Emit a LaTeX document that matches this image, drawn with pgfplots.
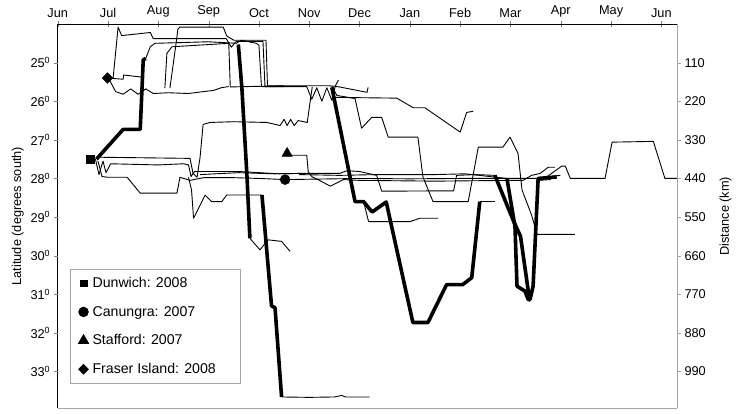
\documentclass[border=0pt]{standalone}
\usepackage{fontspec}
\setmainfont{Liberation Sans}
\usepackage{pgfplots}
\pgfplotsset{compat=1.18}
\pgfplotsset{
  trk/.style={black, line width=0.9bp, forget plot, line join=round},
  tkk/.style={black, line width=3.6bp, forget plot, line join=round},
  frame/.style={scale only axis, width=619bp, height=384bp,
    xmin=0, xmax=12.31, clip=false},
}
\begin{document}
\begin{tikzpicture}[font=\fontsize{12.8}{15}\selectfont]
% latitude axis with the tracks
\begin{axis}[frame, name=ax,
  ymin=24, ymax=33.95, y dir=reverse,
  axis x line*=top, axis y line*=left,
  tick align=center, major tick length=6bp,
  xtick={0,...,12},
  xticklabels={Jun,Jul,Aug,Sep,Oct,Nov,Dec,Jan,Feb,Mar,Apr,May,Jun},
  ytick=\empty,
  axis line style={black, line width=0.8bp},
  legend style={at={(0.02,0.362)}, anchor=north west, draw=gray!70,
    line width=0.8bp, row sep=13bp, column sep=2bp, inner xsep=8bp, inner ysep=6bp,
    font=\fontsize{14.2}{16}\selectfont, legend cell align=left},
  legend image code/.code={\draw[#1] plot coordinates {(0.12cm,0cm)};},
]
\addlegendimage{only marks, mark=square*, mark size=3.4bp, black}
\addlegendentry{Dunwich: 2008}
\addlegendimage{only marks, mark=*, mark size=4.8bp, black}
\addlegendentry{Canungra: 2007}
\addlegendimage{only marks, mark=triangle*, mark size=5.8bp, black}
\addlegendentry{Stafford: 2007}
\addlegendimage{only marks, mark=square*, mark options={rotate=45}, mark size=3.4bp, black}
\addlegendentry{Fraser Island: 2008\hspace*{15bp}}

% thin tracks
\addplot[trk] coordinates {(0.78,27.45)(2.63,27.48)(2.69,27.87)(2.77,27.97)(2.83,27.45)(2.89,26.6)(3.03,26.55)(3.5,26.53)(4.16,26.55)(4.42,26.63)(4.5,26.47)(4.56,26.63)(4.63,26.47)(4.7,26.63)(4.78,26.5)(4.96,26.55)(5.02,25.99)(5.06,25.63)};
\addplot[trk] coordinates {(3.82,29.55)(4.02,29.85)(4.1,29.72)(4.18,29.59)(4.45,29.63)(4.62,29.89)};
\addplot[trk] coordinates {(2.6,27.97)(2.66,28.3)(2.7,29.03)(2.93,28.43)(3.06,28.6)(3.26,28.6)(3.36,28.43)(4.06,28.43)};
\addplot[trk] coordinates {(4.45,33.66)(5.0,33.67)(5.5,33.66)(5.65,33.62)(5.72,33.66)(6.2,33.66)};
\addplot[trk] coordinates {(1.1,25.42)(1.2,24.08)(1.27,24.3)(1.84,24.22)(1.9,24.38)(3.35,24.38)(3.45,24.6)(3.55,24.45)(4.08,24.45)(4.12,25.62)(4.95,25.62)(5.05,25.95)(5.15,25.65)(5.25,26.0)(5.35,25.65)(5.45,25.98)(5.52,25.6)(5.58,25.45)};
\addplot[trk] coordinates {(0.99,25.4)(1.05,25.5)(1.15,25.75)(1.3,25.82)(1.45,25.68)(1.6,25.82)(1.75,25.68)(1.9,25.8)(2.2,25.78)(2.6,25.8)(2.9,25.75)(3.1,25.72)(3.25,25.65)(3.4,25.62)};
\addplot[trk] coordinates {(0.99,25.4)(1.3,25.43)(1.31,25.32)(1.7,25.38)};
\addplot[trk] coordinates {(1.75,24.89)(1.84,24.59)(1.93,24.5)(3.0,24.46)(3.55,24.5)(3.65,24.42)(3.95,24.5)(4.0,24.55)(4.05,25.62)(4.5,25.62)};
\addplot[trk] coordinates {(2.13,25.66)(2.17,24.76)(2.27,24.59)(3.4,24.5)(3.43,25.63)(4.5,25.6)};
\addplot[trk] coordinates {(2.23,25.66)(2.33,24.72)(2.39,24.13)(2.43,24.08)(3.29,24.08)(3.36,24.31)(3.5,24.42)(4.14,24.42)(4.17,25.6)(5.4,25.6)(5.6,25.63)(6.15,25.77)(6.17,25.64)};
\addplot[trk] coordinates {(5.45,25.62)(5.55,25.85)(5.91,25.93)(6.04,26.7)(6.24,26.42)(6.44,26.42)(6.57,26.93)(7.16,26.93)(7.26,27.96)(7.46,28.6)(8.16,28.6)(8.36,27.19)(8.85,27.19)(8.99,26.93)(9.15,27.35)(9.23,28.3)(9.42,28.95)(9.53,29.45)(10.28,29.45)};
\addplot[trk] coordinates {(5.48,25.9)(6.74,25.92)(7.07,26.17)(7.3,26.17)(8.0,26.8)(8.13,26.29)(8.26,26.26)};
\addplot[trk] coordinates {(4.53,28.03)(5.0,28.02)(6.0,28.0)(7.0,28.01)(8.0,28.0)(8.9,28.0)(9.55,28.0)(9.72,27.96)(10.02,27.68)(10.09,27.68)(10.19,28.0)(10.88,28.0)(11.02,27.06)(11.84,27.04)(12.07,28.0)(12.31,28.0)};
\addplot[trk] coordinates {(2.83,27.9)(3.6,27.85)(4.3,27.88)(4.8,27.87)(5.6,27.87)(5.75,27.8)(6.0,27.82)(6.34,27.92)(6.44,28.33)(7.87,28.32)(7.93,27.92)(8.3,27.9)(8.69,27.92)};
\addplot[trk] coordinates {(4.8,27.9)(5.6,27.92)(6.34,27.9)(7.5,27.9)(8.1,27.88)(8.93,28.0)};
\addplot[trk] coordinates {(4.56,27.4)(4.95,27.4)(4.98,27.83)(5.05,27.95)(5.2,28.05)(5.42,28.2)(5.68,28.03)(6.0,28.05)(7.5,28.07)(9.0,28.05)(9.25,28.05)(9.42,27.92)(9.59,27.87)(9.75,27.71)(9.89,27.71)};
\addplot[trk] coordinates {(9.55,28.05)(9.79,28.03)(9.85,27.94)(9.99,27.92)};
\addplot[trk] coordinates {(6.08,28.6)(6.18,29.12)(7.0,29.12)(7.2,29.03)(7.56,29.03)};
\addplot[trk] coordinates {(8.39,28.6)(8.69,28.6)};
\addplot[trk] coordinates {(0.75,27.5)(0.82,27.9)(0.9,27.55)(0.96,27.85)(1.05,27.62)(2.0,27.65)(2.5,27.62)(2.6,27.65)(2.65,27.95)(2.72,27.82)(3.6,27.82)(4.4,27.88)(4.8,27.87)};
\addplot[trk] coordinates {(0.8,27.55)(0.88,27.95)(1.0,27.97)(1.38,27.97)(1.64,28.38)(2.37,28.38)(2.43,27.97)(2.63,28.05)(2.9,27.98)(3.5,27.98)(4.0,28.0)(4.53,28.03)};

% thick tracks
\addplot[tkk] coordinates {(0.77,27.5)(1.3,26.73)(1.64,26.73)(1.7,24.93)(1.75,24.89)};
\addplot[tkk] coordinates {(3.59,24.53)(3.66,25.64)(3.76,27.89)(3.82,29.55)};
\addplot[tkk] coordinates {(4.06,28.43)(4.25,31.3)(4.32,31.35)(4.45,33.66)};
\addplot[tkk] coordinates {(5.45,25.64)(5.91,28.6)(6.08,28.6)(6.25,28.87)(6.53,28.61)(7.06,31.73)(7.36,31.73)(7.73,30.75)(8.05,30.75)(8.23,30.57)(8.39,28.6)};
\addplot[tkk] coordinates {(8.69,27.92)(9.05,29.07)(9.2,29.5)(9.35,30.88)(9.39,31.13)(9.45,30.79)(9.55,28.0)(9.92,27.96)};
\addplot[tkk] coordinates {(8.93,28.0)(9.09,29.25)(9.13,30.79)(9.29,30.92)(9.35,31.13)(9.4,31.15)};

% start markers
\addplot[only marks, mark=square*, mark size=4bp, forget plot] coordinates {(0.64,27.5)};
\addplot[only marks, mark=*, mark size=5bp, forget plot] coordinates {(4.52,28.03)};
\addplot[only marks, mark=triangle*, mark size=6bp, forget plot] coordinates {(4.56,27.35)};
\addplot[only marks, mark=square*, mark options={rotate=45}, mark size=3.8bp, forget plot] coordinates {(0.99,25.4)};
\end{axis}

% left latitude scale
\begin{axis}[frame, hide x axis,
  ymin=24, ymax=33.95, y dir=reverse,
  axis y line*=left, axis line style={draw=none},
  tick align=outside, major tick length=4bp,
  ytick={25,...,33},
  yticklabels={\mbox{25\textsuperscript{0}},\mbox{26\textsuperscript{0}},\mbox{27\textsuperscript{0}},\mbox{28\textsuperscript{0}},\mbox{29\textsuperscript{0}},\mbox{30\textsuperscript{0}},\mbox{31\textsuperscript{0}},\mbox{32\textsuperscript{0}},\mbox{33\textsuperscript{0}}},
  ylabel={Latitude (degrees south)},
]
\end{axis}

% right distance scale
\begin{axis}[frame,
  ymin=0, ymax=1094.5, y dir=reverse,
  axis x line*=bottom, axis y line*=right,
  axis line style={gray!70, line width=0.8bp},
  xtick=\empty,
  tick align=outside, major tick length=4bp,
  ytick={110,220,...,990},
  ytick style={gray!70},
  /pgf/number format/assume math mode=true,
  ylabel={Distance (km)}, ylabel shift=7bp,
]
\end{axis}

\pgfresetboundingbox
\path[use as bounding box] ([xshift=-57.7bp,yshift=-5bp]ax.south west) rectangle ([xshift=65bp,yshift=24bp]ax.north east);
\end{tikzpicture}
\end{document}
